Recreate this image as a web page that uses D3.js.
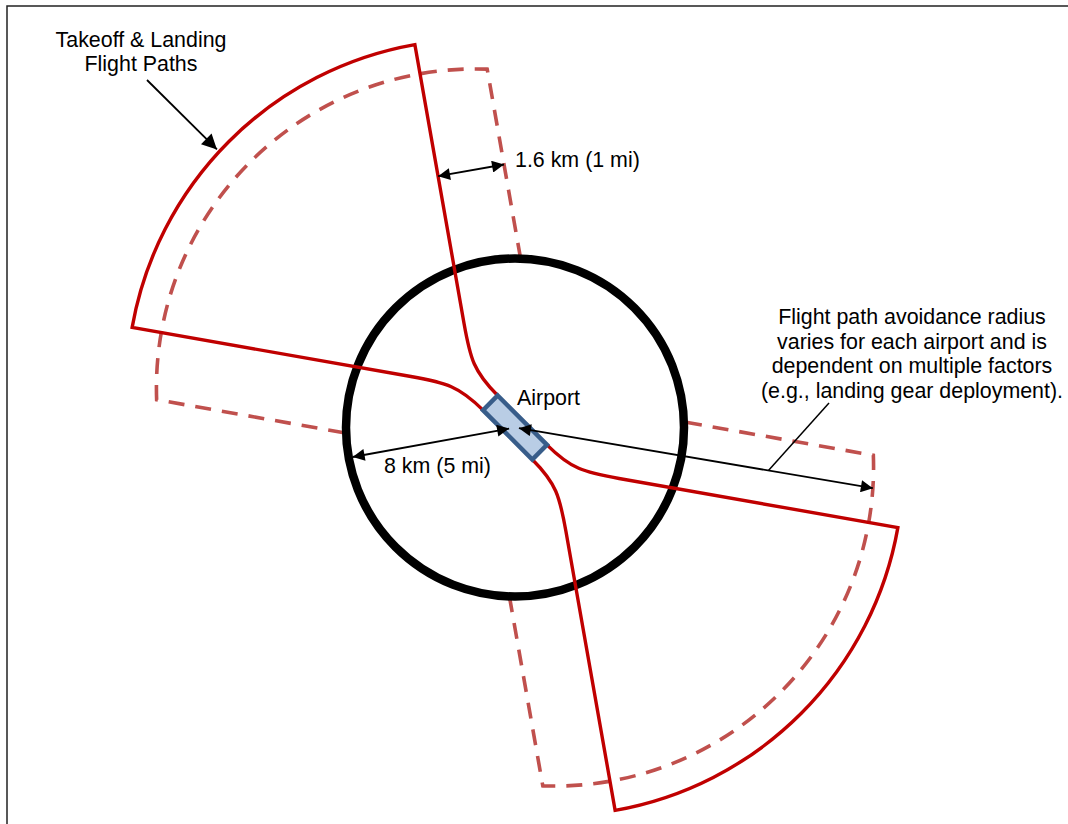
<!DOCTYPE html>
<html>
<head>
<meta charset="utf-8">
<script src="https://cdn.jsdelivr.net/npm/d3@7"></script>
<style>
  body { margin: 0; background: #fff; }
  text { font-family: "Liberation Sans", Arial, sans-serif; font-size: 21.4px; fill: #000; }
</style>
</head>
<body>
<svg id="fig" width="1068" height="824"></svg>
<script>
// diagram values (km along the runway frame, degrees)
var fanHeadings = [225, 45];          // the two runway approach directions
var zoneRadius = [8];                 // avoidance circle
var fanRadius = [16.5, 15.1];         // solid flight path fan, dashed buffer fan
var fanHalfAngle = [35];
var fanApex = [2.65];                 // where the fan edges would meet
var bendStart = [3.1];                // edge turns into a curve here
var bufferWidth = [3.17];             // the 1.6 km buffer as drawn
var runwaySize = [3.3, 0.98];
var calloutAngles = [169.7, -41.2];   // 8 km arrow, avoidance radius arrow
var takeoffLines = ["Takeoff & Landing", "Flight Paths"];
var bufferLabel = ["1.6 km (1 mi)"];
var zoneLabel = ["8 km (5 mi)"];
var airportLabel = ["Airport"];
var radiusNote = ["Flight path avoidance radius", "varies for each airport and is",
                  "dependent on multiple factors", "(e.g., landing gear deployment)."];

var svg = d3.select("#fig"),
    cx = 515, cy = 427.5;
var km = d3.scaleLinear().domain([0, 8]).range([0, 169]);
var rad = Math.PI / 180;

// local fan frame -> screen
function toScreen(heading, x, y) {
  var a = heading * rad;
  return [cx + km(x) * Math.cos(a) - km(y) * Math.sin(a),
          cy + km(x) * Math.sin(a) + km(y) * Math.cos(a)];
}
function fromApex(heading, r, ang) {
  return toScreen(heading, fanApex[0] + r * Math.cos(ang * rad), r * Math.sin(ang * rad));
}

// arrow heads
var defs = svg.append("defs");
[["big", 19, 15], ["small", 15, 12]].forEach(function(m) {
  defs.append("marker")
    .attr("id", "arr-" + m[0])
    .attr("viewBox", "0 0 10 10")
    .attr("refX", 10).attr("refY", 5)
    .attr("markerUnits", "userSpaceOnUse")
    .attr("markerWidth", m[1]).attr("markerHeight", m[2])
    .attr("orient", "auto-start-reverse")
    .append("path").attr("d", "M0,0L10,5L0,10z").attr("fill", "#000");
});

// frame
svg.append("rect")
  .attr("x", 7).attr("y", 6).attr("width", 1200).attr("height", 1000)
  .attr("fill", "none").attr("stroke", "#222").attr("stroke-width", 1.5);

// dashed buffer fans, stopping at the avoidance circle
function bufferPath(h) {
  var R = fanRadius[1], w = bufferWidth[0], z = zoneRadius[0], a = fanHalfAngle[0] * rad;
  var tc = Math.sqrt(R * R - w * w);
  var corner = fanHalfAngle[0] + Math.atan2(w, tc) / rad;
  var p = d3.path();
  [1, -1].forEach(function(s, i) {
    var ex = Math.cos(a), ey = s * Math.sin(a), nx = -Math.sin(a), ny = s * Math.cos(a);
    var ox = fanApex[0] + nx * w, oy = ny * w;
    var b = ox * ex + oy * ey, c = ox * ox + oy * oy - z * z;
    var t = -b + Math.sqrt(b * b - c);
    var inner = toScreen(h, ox + ex * t, oy + ey * t);
    var outer = fromApex(h, R, s * corner);
    if (i === 0) {
      p.moveTo(inner[0], inner[1]);
      p.lineTo(outer[0], outer[1]);
      var ap = toScreen(h, fanApex[0], 0);
      p.arc(ap[0], ap[1], km(R), (h + corner) * rad, (h - corner) * rad, true);
    } else {
      p.lineTo(inner[0], inner[1]);
    }
  });
  return p.toString();
}
svg.selectAll(".buffer")
  .data(fanHeadings)
  .enter().append("path")
    .attr("class", "buffer")
    .attr("d", bufferPath)
    .attr("fill", "none")
    .attr("stroke", "#c0504d")
    .attr("stroke-width", 3.6)
    .attr("stroke-dasharray", "16,11");

// avoidance circle
svg.append("circle")
  .attr("cx", cx).attr("cy", cy).attr("r", km(zoneRadius[0]))
  .attr("fill", "none").attr("stroke", "#000").attr("stroke-width", 8.5);

// solid flight path fans, curving into the runway ends
function fanPath(h) {
  var R = fanRadius[0], A = fanHalfAngle[0], a = A * rad;
  var p = d3.path();
  function side(s) {
    var ex = Math.cos(a), ey = s * Math.sin(a);
    var bx = fanApex[0] + ex * bendStart[0], by = ey * bendStart[0];
    return {
      end: toScreen(h, runwaySize[0] / 2, s * runwaySize[1] / 2),
      c2: toScreen(h, runwaySize[0] / 2 + 1.6, s * runwaySize[1] / 2),
      c1: toScreen(h, bx - ex * 1.7, by - ey * 1.7),
      bend: toScreen(h, bx, by),
      corner: fromApex(h, R, s * A)
    };
  }
  var up = side(1), dn = side(-1);
  p.moveTo(up.end[0], up.end[1]);
  p.bezierCurveTo(up.c2[0], up.c2[1], up.c1[0], up.c1[1], up.bend[0], up.bend[1]);
  p.lineTo(up.corner[0], up.corner[1]);
  var ap = toScreen(h, fanApex[0], 0);
  p.arc(ap[0], ap[1], km(R), (h + A) * rad, (h - A) * rad, true);
  p.lineTo(dn.bend[0], dn.bend[1]);
  p.bezierCurveTo(dn.c1[0], dn.c1[1], dn.c2[0], dn.c2[1], dn.end[0], dn.end[1]);
  return p.toString();
}
svg.selectAll(".fan")
  .data(fanHeadings)
  .enter().append("path")
    .attr("class", "fan")
    .attr("d", fanPath)
    .attr("fill", "none")
    .attr("stroke", "#c00000")
    .attr("stroke-width", 3.4)
    .attr("stroke-linejoin", "miter");

// runway
var rw = [[-1, -1], [1, -1], [1, 1], [-1, 1]].map(function(c) {
  return toScreen(fanHeadings[1], c[0] * runwaySize[0] / 2, c[1] * runwaySize[1] / 2);
});
svg.append("path")
  .attr("d", d3.line()(rw) + "Z")
  .attr("fill", "#b9cde5")
  .attr("stroke", "#385d8a")
  .attr("stroke-width", 4.5)
  .attr("stroke-linejoin", "miter");

// annotation arrows
function arrow(a, b, size, both) {
  var l = svg.append("line")
    .attr("x1", a[0]).attr("y1", a[1]).attr("x2", b[0]).attr("y2", b[1])
    .attr("stroke", "#000").attr("stroke-width", 1.8)
    .attr("marker-end", "url(#arr-" + size + ")");
  if (both) l.attr("marker-start", "url(#arr-" + size + ")");
  return l;
}
function polar(ang, r) {
  return [cx + r * Math.cos(ang * rad), cy + r * Math.sin(ang * rad)];
}
// 8 km radius
arrow(polar(calloutAngles[0], 6), polar(calloutAngles[0], km(zoneRadius[0]) - 4), "small", true);
// avoidance radius to the dashed fan
var farTip = fromApex(fanHeadings[1], fanRadius[1], calloutAngles[1]);
var dist = Math.hypot(farTip[0] - cx, farTip[1] - cy);
var startTip = [cx + 4 * (farTip[0] - cx) / dist, cy + 4 * (farTip[1] - cy) / dist];
arrow(startTip, farTip, "small", true);
var kink = d3.interpolate(startTip, farTip)(0.705);
svg.append("line")
  .attr("x1", kink[0]).attr("y1", kink[1]).attr("x2", 829).attr("y2", 403)
  .attr("stroke", "#000").attr("stroke-width", 1.5);
// 1.6 km buffer width
var a35 = fanHalfAngle[0] * rad, along = 10.18;
var bIn = toScreen(fanHeadings[0], fanApex[0] + Math.cos(a35) * along, Math.sin(a35) * along);
var bOut = toScreen(fanHeadings[0], fanApex[0] + Math.cos(a35) * along - Math.sin(a35) * bufferWidth[0],
                    Math.sin(a35) * along + Math.cos(a35) * bufferWidth[0]);
arrow(bIn, bOut, "small", true);
// takeoff & landing pointer
arrow([147, 80], fromApex(fanHeadings[0], fanRadius[0] + 0.15, -2.3), "big", false);

// labels
svg.selectAll(".tl")
  .data(takeoffLines)
  .enter().append("text")
    .attr("x", 141).attr("y", function(d, i) { return 47 + i * 24; })
    .attr("text-anchor", "middle")
    .text(function(d) { return d; });
svg.append("text").attr("x", 515).attr("y", 167).text(bufferLabel[0]);
svg.append("text").attr("x", 517).attr("y", 405).text(airportLabel[0]);
svg.append("text").attr("x", 384).attr("y", 473).text(zoneLabel[0]);
svg.selectAll(".note")
  .data(radiusNote)
  .enter().append("text")
    .attr("x", 912).attr("y", function(d, i) { return 324 + i * 24.6; })
    .attr("text-anchor", "middle")
    .text(function(d) { return d; });
</script>
</body>
</html>
